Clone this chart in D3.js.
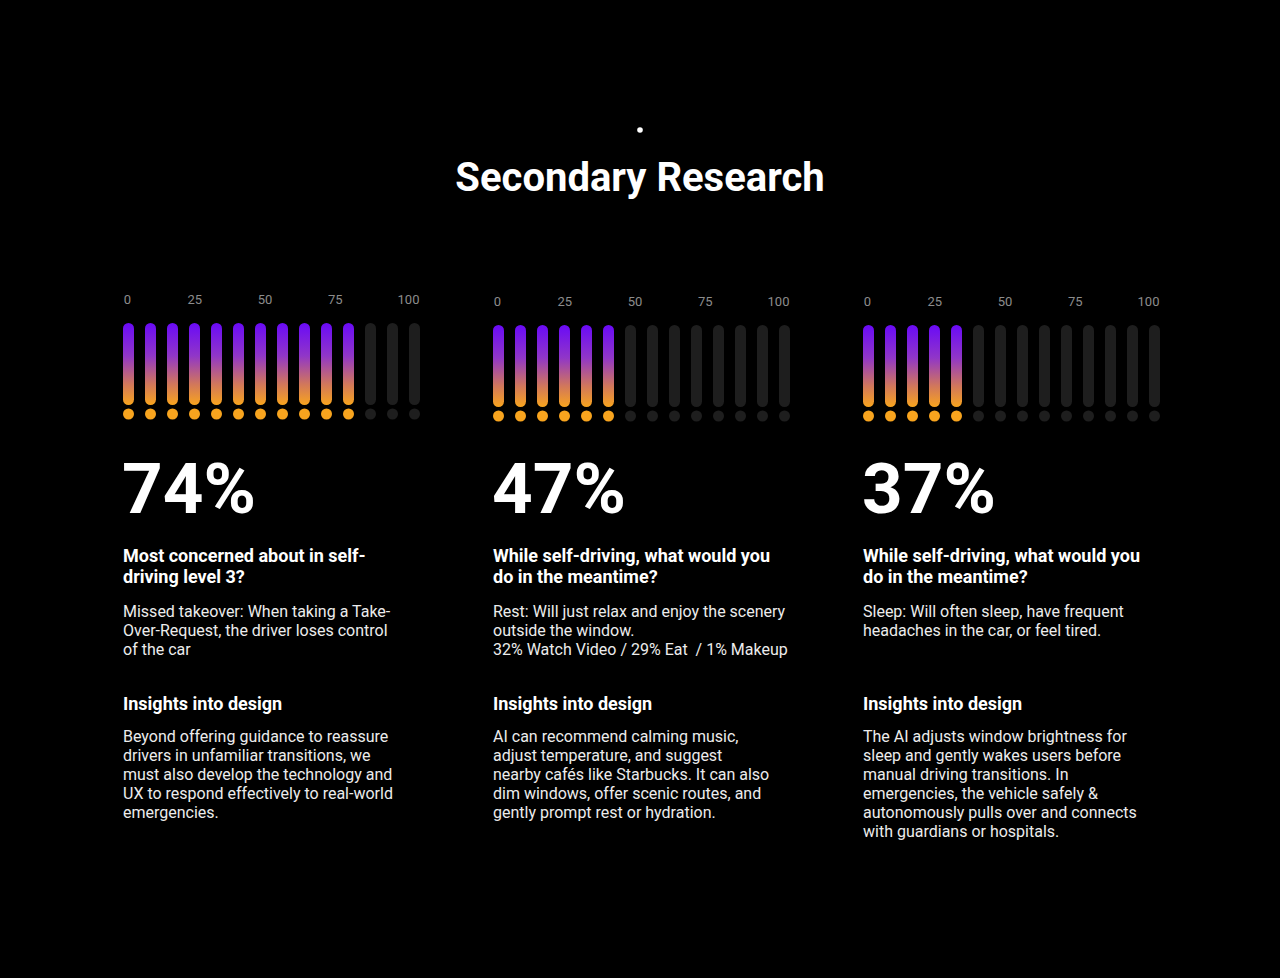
<!DOCTYPE html>
<meta charset="utf-8">
<script src="https://d3js.org/d3.v7.min.js"></script>
<style>
  html, body { margin: 0; padding: 0; background: #000; }
  svg text { font-family: Roboto, "Noto Sans", sans-serif; }
</style>
<div id="my_dataviz"></div>

<script>
// data
var percents = [74, 47, 37];
var filledBars = [11, 6, 5];          // lit bars out of 14
var barCount = 14;
var tickValues = [0, 25, 50, 75, 100];
var questions = [
  ["Most concerned about in self-", "driving level 3?"],
  ["While self-driving, what would you", "do in the meantime?"],
  ["While self-driving, what would you", "do in the meantime?"]
];
var answers = [
  ["Missed takeover: When taking a Take-", "Over-Request, the driver loses control", "of the car"],
  ["Rest: Will just relax and enjoy the scenery", "outside the window.", "32% Watch Video / 29% Eat  / 1% Makeup"],
  ["Sleep: Will often sleep, have frequent", "headaches in the car, or feel tired."]
];
var insights = [
  ["Beyond offering guidance to reassure", "drivers in unfamiliar transitions, we", "must also develop the technology and", "UX to respond effectively to real-world", "emergencies."],
  ["AI can recommend calming music,", "adjust temperature, and suggest", "nearby caf\u00e9s like Starbucks. It can also", "dim windows, offer scenic routes, and", "gently prompt rest or hydration."],
  ["The AI adjusts window brightness for", "sleep and gently wakes users before", "manual driving transitions. In", "emergencies, the vehicle safely &", "autonomously pulls over and connects", "with guardians or hospitals."]
];

var width = 1280, height = 978;

var svg = d3.select("#my_dataviz")
  .append("svg")
    .attr("width", width)
    .attr("height", height)
    .style("display", "block");

svg.append("rect").attr("width", width).attr("height", height).attr("fill", "#000");

// gradient for lit bars
var grad = svg.append("defs").append("linearGradient")
    .attr("id", "barGrad")
    .attr("x1", 0).attr("y1", 0).attr("x2", 0).attr("y2", 1);
grad.append("stop").attr("offset", "0%").attr("stop-color", "#6a0af7");
grad.append("stop").attr("offset", "40%").attr("stop-color", "#9036c8");
grad.append("stop").attr("offset", "75%").attr("stop-color", "#d2785a");
grad.append("stop").attr("offset", "100%").attr("stop-color", "#f8a41e");

// header
svg.append("circle").attr("cx", 640).attr("cy", 130).attr("r", 2.8).attr("fill", "#fff");
svg.append("text")
  .attr("x", 640).attr("y", 191)
  .attr("text-anchor", "middle")
  .attr("fill", "#fff")
  .attr("font-size", "40px")
  .attr("font-weight", 700)
  .text("Secondary Research");

var panelX = d3.scaleLinear().domain([0, 2]).range([123, 863]);
var panelDy = [-2, 0, 0];
var barW = 11;

percents.forEach(function(p, i) {
  var x0 = panelX(i);
  var dy = panelDy[i];
  var g = svg.append("g").attr("transform", "translate(" + x0 + ",0)");

  var idx = d3.scaleLinear().domain([0, barCount - 1]).range([barW / 2, barW / 2 + 286]);
  var tick = d3.scaleLinear().domain([0, 100]).range([idx(0) - 1, idx(barCount - 1) - 6]);
  var y = d3.scaleLinear().domain([0, 1]).range([407 + dy, 325 + dy]);

  g.selectAll(".tick-label")
    .data(tickValues)
    .enter().append("text")
      .attr("x", function(d) { return tick(d) - (d > 0 && d < 100 ? 3 : 0); })
      .attr("y", 306 + dy)
      .attr("text-anchor", "middle")
      .attr("fill", "#8c8c8c")
      .attr("font-size", "13px")
      .text(function(d) { return d; });

  var bars = d3.range(barCount);
  g.selectAll(".bar")
    .data(bars)
    .enter().append("rect")
      .attr("x", function(d) { return idx(d) - barW / 2; })
      .attr("y", y(1))
      .attr("width", barW)
      .attr("height", y(0) - y(1))
      .attr("rx", barW / 2)
      .attr("fill", function(d) { return d < filledBars[i] ? "url(#barGrad)" : "#1e1e1e"; });

  g.selectAll(".dot")
    .data(bars)
    .enter().append("circle")
      .attr("cx", function(d) { return idx(d); })
      .attr("cy", 416 + dy)
      .attr("r", 5.5)
      .attr("fill", function(d) { return d < filledBars[i] ? "#f8a41e" : "#1e1e1e"; });

  g.append("text")
    .attr("x", -1).attr("y", 513)
    .attr("fill", "#fff")
    .attr("font-size", "71px")
    .attr("font-weight", 700)
    .text(p + "%");

  g.selectAll(".q")
    .data(questions[i])
    .enter().append("text")
      .attr("x", 0)
      .attr("y", function(d, k) { return 562 + k * 21; })
      .attr("fill", "#fff")
      .attr("font-size", "18px")
      .attr("font-weight", 700)
      .text(function(d) { return d; });

  g.selectAll(".a")
    .data(answers[i])
    .enter().append("text")
      .attr("x", 0)
      .attr("y", function(d, k) { return 617 + k * 19; })
      .attr("fill", "#ececec")
      .attr("font-size", "16px")
      .style("white-space", "pre")
      .text(function(d) { return d; });

  g.append("text")
    .attr("x", 0).attr("y", 710)
    .attr("fill", "#fff")
    .attr("font-size", "18px")
    .attr("font-weight", 700)
    .text("Insights into design");

  g.selectAll(".ins")
    .data(insights[i])
    .enter().append("text")
      .attr("x", 0)
      .attr("y", function(d, k) { return 742 + k * 19; })
      .attr("fill", "#ececec")
      .attr("font-size", "16px")
      .text(function(d) { return d; });
});
</script>
